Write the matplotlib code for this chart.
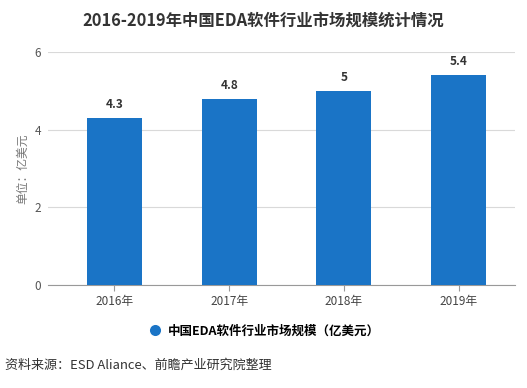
import matplotlib
matplotlib.use("Agg")
import matplotlib.pyplot as plt
from matplotlib.lines import Line2D

plt.rcParams['font.family'] = ['Noto Sans CJK SC', 'DejaVu Sans']

categories = ["2016年", "2017年", "2018年", "2019年"]
values = [4.3, 4.8, 5, 5.4]
value_labels = ["4.3", "4.8", "5", "5.4"]
yticks = [0, 2, 4, 6]

fig = plt.figure(figsize=(5.27, 3.88), dpi=100)
ax = fig.add_axes([0.091, 0.265, 0.886, 0.601])

color = "#1a74c6"
x = range(len(categories))
bars = ax.bar(x, values, width=0.48, color=color, zorder=3)
for xi, v, lab in zip(x, values, value_labels):
    ax.text(xi, v + 0.18, lab, ha="center", va="bottom", fontsize=8.5,
            fontweight="bold", color="#333333")

ax.set_xlim(-0.58, 3.49)
ax.set_ylim(0, 6)
ax.set_yticks(yticks)
ax.set_yticklabels([str(t) for t in yticks], fontsize=8.5, color="#555555")
ax.set_xticks(list(x))
ax.set_xticklabels(categories, fontsize=8.5, color="#444444")
ax.tick_params(axis="y", length=0, pad=5)
ax.tick_params(axis="x", length=4, color="#999999", pad=3)
ax.grid(axis="y", color="#d9d9d9", linewidth=0.8, zorder=0)
for s in ["top", "right", "left"]:
    ax.spines[s].set_visible(False)
ax.spines["bottom"].set_color("#999999")
ax.set_ylabel("单位：亿美元", fontsize=8.5, color="#777777", labelpad=4)

fig.text(0.5, 0.948, "2016-2019年中国EDA软件行业市场规模统计情况", ha="center",
         va="center", fontsize=11.8, fontweight="bold", color="#333333")

fig.legend(handles=[Line2D([0], [0], marker="o", color="w", markerfacecolor=color,
                           markersize=9, label="中国EDA软件行业市场规模（亿美元）")],
           loc="center", bbox_to_anchor=(0.5, 0.147), frameon=False,
           prop={"size": 9, "weight": "bold"}, handletextpad=0.4, handlelength=1.2)

fig.text(0.01, 0.058, "资料来源：ESD Aliance、前瞻产业研究院整理", ha="left",
         va="center", fontsize=9.4, color="#333333")

fig.savefig("out.png", dpi=100)
